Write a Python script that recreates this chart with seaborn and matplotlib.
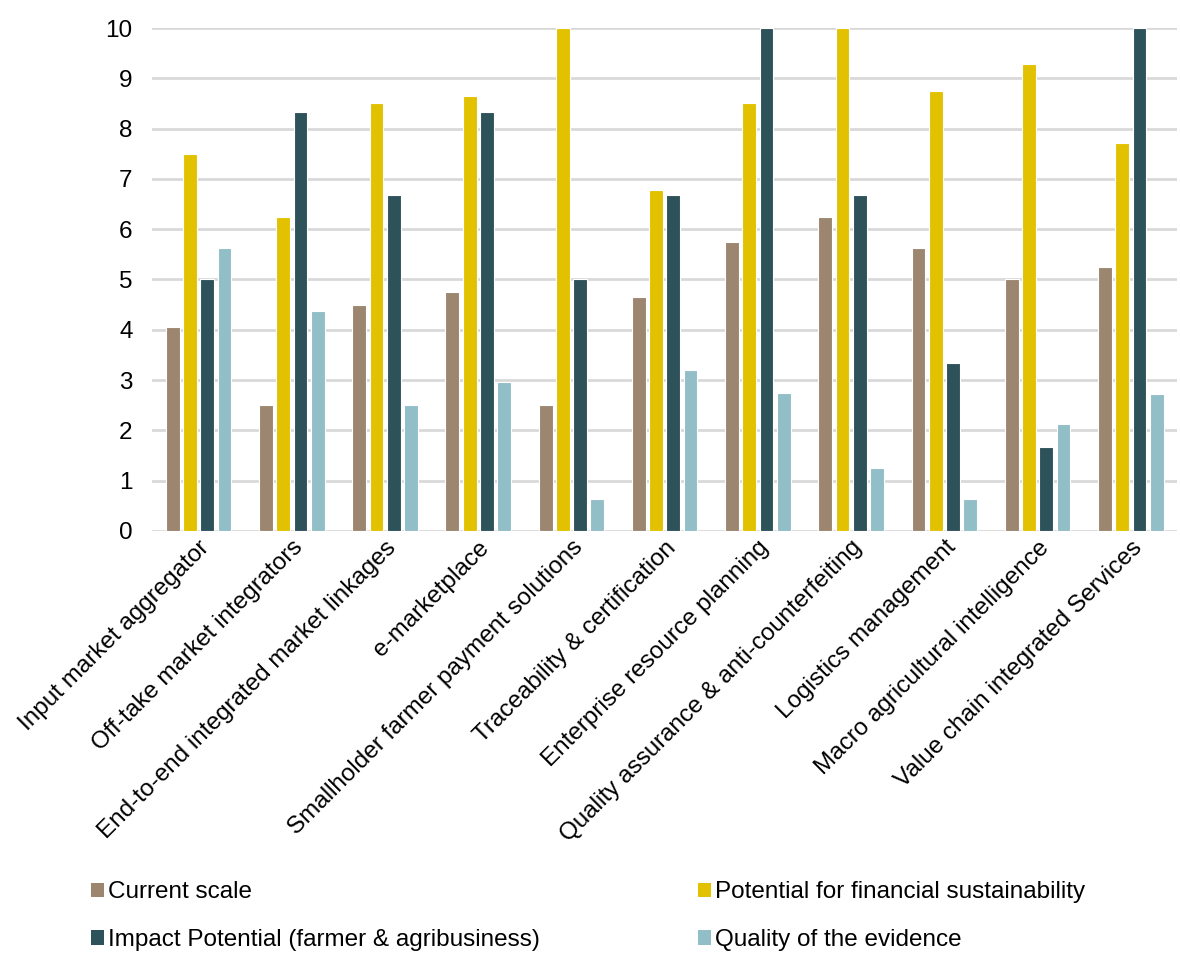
import matplotlib
matplotlib.use("Agg")
import matplotlib.pyplot as plt
import seaborn as sns
import pandas as pd
from matplotlib.patches import Patch

categories = [
    "Input market aggregator",
    "Off-take market integrators",
    "End-to-end integrated market linkages",
    "e-marketplace",
    "Smallholder farmer payment solutions",
    "Traceability & certification",
    "Enterprise resource planning",
    "Quality assurance & anti-counterfeiting",
    "Logistics management",
    "Macro agricultural intelligence",
    "Value chain integrated Services",
]

series_names = [
    "Current scale",
    "Potential for financial sustainability",
    "Impact Potential (farmer & agribusiness)",
    "Quality of the evidence",
]

current_scale = [4.06, 2.5, 4.5, 4.75, 2.5, 4.65, 5.75, 6.25, 5.63, 5.0, 5.25]
financial_sustainability = [7.5, 6.25, 8.5, 8.65, 10.0, 6.78, 8.5, 10.0, 8.75, 9.28, 7.72]
impact_potential = [5.0, 8.33, 6.67, 8.33, 5.0, 6.67, 10.0, 6.67, 3.33, 1.67, 10.0]
evidence_quality = [5.63, 4.38, 2.5, 2.96, 0.63, 3.2, 2.75, 1.25, 0.63, 2.13, 2.72]

colors = ["#9C8670", "#E2C200", "#2E525A", "#91BEC7"]

rows = []
for name, vals in zip(series_names,
                      [current_scale, financial_sustainability, impact_potential, evidence_quality]):
    for cat, v in zip(categories, vals):
        rows.append({"category": cat, "series": name, "value": v})
df = pd.DataFrame(rows)

sns.set_theme(style="white")
plt.rcParams["font.family"] = ["Liberation Sans", "DejaVu Sans"]
plt.rcParams["text.color"] = "black"

FS = 17.5

fig = plt.figure(figsize=(11.8, 9.56), dpi=100)
ax = fig.add_axes([0.1288, 0.4446, 0.869, 0.5261])

sns.barplot(data=df, x="category", y="value", hue="series", order=categories,
            hue_order=series_names, palette=colors, width=0.74, saturation=1,
            edgecolor="white", linewidth=0.8, legend=False, ax=ax)

# narrow each bar a little so the grid shows through the gaps
for p in ax.patches:
    w = p.get_width()
    nw = w * 0.8
    p.set_x(p.get_x() + (w - nw) / 2)
    p.set_width(nw)

ax.set_ylim(0, 10)
ax.set_yticks(range(0, 11))
ax.set_xlim(-0.5, len(categories) - 0.5)
ax.yaxis.grid(True, color="#D9D9D9", linewidth=2)
ax.set_axisbelow(True)
for s in ax.spines.values():
    s.set_visible(False)
ax.set_xlabel("")
ax.set_ylabel("")
ax.tick_params(axis="both", length=0, labelsize=FS, colors="black")
ax.tick_params(axis="y", pad=14)
ax.tick_params(axis="x", pad=4)
ax.set_xticks(range(len(categories)))
ax.set_xticklabels(categories, rotation=45, ha="right", rotation_mode="anchor")

# legend laid out in two columns: left column first, then right
order = [0, 2, 1, 3]
handles = [Patch(facecolor=colors[i], edgecolor="none") for i in order]
labels = [series_names[i] for i in order]
leg = fig.legend(handles, labels, loc="upper left", bbox_to_anchor=(0.077, 0.078),
                 ncol=2, frameon=False, fontsize=FS, handlelength=0.55, handleheight=0.55,
                 handletextpad=0.15, columnspacing=6.5, labelspacing=1.05,
                 borderaxespad=0, borderpad=0)
for t in leg.get_texts():
    t.set_color("black")

fig.savefig("out.png", dpi=100, facecolor="white")
